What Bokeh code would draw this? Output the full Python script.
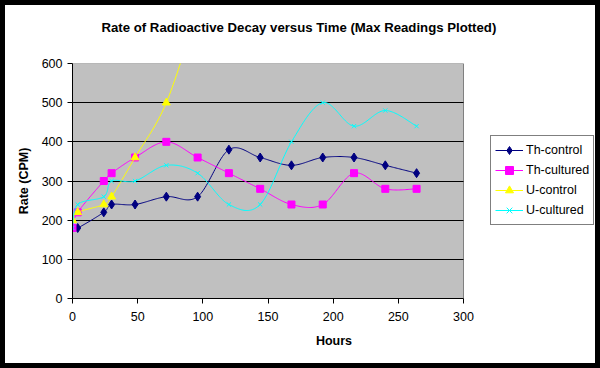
import numpy as np
from bokeh.plotting import figure
from bokeh.models import Legend, LegendItem, Range1d, FixedTicker, Title
from bokeh.embed import file_html
from bokeh.resources import INLINE

# ---- data ----
hours = [0, 4, 24, 30, 48, 72, 96, 120, 144, 168, 192, 216, 240, 264]
th_control = [180, 180, 220, 240, 240, 260, 260, 380, 360, 340, 360, 360, 340, 320]
th_cultured = [180, 220, 300, 320, 360, 400, 360, 320, 280, 240, 240, 320, 280, 280]
u_control_hours = [0, 4, 24, 30, 48, 72, 96]
u_control = [200, 220, 240, 260, 360, 500, 740]
u_cultured = [180, 240, 260, 300, 300, 340, 320, 240, 240, 400, 500, 440, 480, 440]

x_ticks = [0, 50, 100, 150, 200, 250, 300]
y_ticks = [0, 100, 200, 300, 400, 500, 600]

FONT = "Liberation Sans"


def smooth(xs, ys, n=30):
    """Excel-style smoothed line (Catmull-Rom as cubic Bezier)."""
    P = np.column_stack([xs, ys]).astype(float)
    E = np.vstack([P[0], P, P[-1]])
    t = np.linspace(0, 1, n)[:, None]
    parts = []
    for i in range(len(P) - 1):
        p0, p1, p2, p3 = E[i], E[i + 1], E[i + 2], E[i + 3]
        b1 = p1 + (p2 - p0) / 6.0
        b2 = p2 - (p3 - p1) / 6.0
        seg = (1 - t) ** 3 * p1 + 3 * (1 - t) ** 2 * t * b1 + 3 * (1 - t) * t ** 2 * b2 + t ** 3 * p2
        parts.append(seg if i == 0 else seg[1:])
    a = np.vstack(parts)
    return a[:, 0], a[:, 1]


# layout (pixels): figure 590x358 placed at (5,5) inside a 5px black frame
W, H = 590, 358
LEFT, TOP, BOTTOM = 67, 58, 65
PLOT_W = 391                     # pixel width of the grey plot area (0..300 h)
frame_w = W - LEFT               # frame spans to the right edge so the legend fits in it
x_min, x_max = x_ticks[0], x_ticks[-1]
y_min, y_max = y_ticks[0], y_ticks[-1]
x_end = x_min + (x_max - x_min) * frame_w / PLOT_W

p = figure(width=W, height=H, output_backend="svg", toolbar_location=None,
           x_range=Range1d(x_min, x_end), y_range=Range1d(y_min, y_max),
           min_border_left=LEFT, min_border_right=0, min_border_top=TOP, min_border_bottom=BOTTOM,
           styles={"margin": "5px", "outline": "5px solid black"})

p.background_fill_color = "white"
p.border_fill_color = "white"
p.outline_line_color = None

# grey plot area with grey border (below the grid)
p.quad(left=[x_min], right=[x_max], bottom=[y_min], top=[y_max],
       fill_color="#C0C0C0", line_color="#808080", line_width=1, level="image")

# main title (outermost) and a thin spacer between it and the plot
p.title.text = "Rate of Radioactive Decay versus Time (Max Readings Plotted)"
p.title.text_font = FONT
p.title.text_font_size = "13.2px"
p.title.text_font_style = "bold"
p.title.text_color = "black"
p.title.align = "left"
p.title.offset = 29
p.title.vertical_align = "top"
p.title.standoff = 28
p.add_layout(Title(text=" ", text_font_size="1px", standoff=10), "above")

p.xgrid.visible = False
p.ygrid.ticker = FixedTicker(ticks=y_ticks)
p.ygrid.grid_line_color = "black"
p.ygrid.grid_line_width = 1
p.ygrid.cross_bounds = (x_min, x_max)

for ax, ticks in ((p.xaxis, x_ticks), (p.yaxis, y_ticks)):
    ax.ticker = FixedTicker(ticks=ticks)
    ax.axis_line_color = "black"
    ax.major_tick_line_color = "black"
    ax.major_tick_in = 0
    ax.major_tick_out = 5
    ax.minor_tick_line_color = None
    ax.major_label_text_font = FONT
    ax.major_label_text_font_size = "12.5px"
    ax.major_label_text_color = "black"
    ax.axis_label_text_font = FONT
    ax.axis_label_text_font_size = "12.5px"
    ax.axis_label_text_font_style = "bold"
    ax.axis_label_text_color = "black"

p.xaxis.bounds = (x_min, x_max)
p.xaxis.axis_label = "Hours"
p.xaxis.major_label_standoff = 8
p.xaxis.axis_label_standoff = 10
p.yaxis.axis_label = "Rate (CPM)"
p.yaxis.major_label_standoff = 5
p.yaxis.axis_label_standoff = 8

series = [
    ("Th-control", hours, th_control, "#000080", "diamond", 9),
    ("Th-cultured", hours, th_cultured, "#FF00FF", "square", 7),
    ("U-control", u_control_hours, u_control, "#FFFF00", "triangle", 8),
    ("U-cultured", hours, u_cultured, "#00FFFF", "x", 6),
]

items = []
for name, xs, ys, color, marker, size in series:
    sx, sy = smooth(xs, ys)
    r1 = p.line(sx, sy, line_color=color, line_width=1)
    r2 = p.scatter(xs, ys, marker=marker, size=size, fill_color=color, line_color=color)
    items.append(LegendItem(label=name, renderers=[r1, r2]))

legend = Legend(items=items, location=(418, 73))
legend.label_text_font = FONT
legend.label_text_font_size = "12.5px"
legend.label_text_color = "black"
legend.border_line_color = "black"
legend.border_line_width = 1
legend.background_fill_color = "white"
legend.background_fill_alpha = 1
legend.glyph_width = 28
legend.glyph_height = 20
legend.label_height = 20
legend.label_standoff = 3
legend.spacing = 0
legend.padding = 4
legend.margin = 0
p.add_layout(legend, "center")

open("out.html", "w").write(file_html(p, INLINE))
